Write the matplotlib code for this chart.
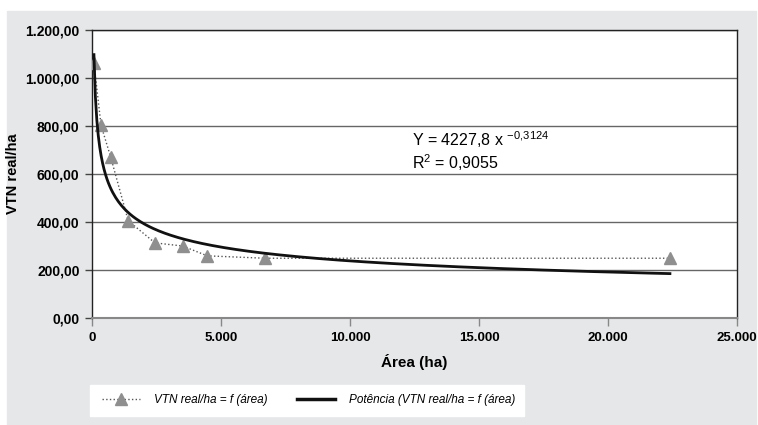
import numpy as np
import matplotlib
matplotlib.use("Agg")
import matplotlib.pyplot as plt
from matplotlib.ticker import FuncFormatter
from matplotlib.patches import Rectangle
from matplotlib.lines import Line2D

plt.rcParams['font.family'] = ['Liberation Sans', 'DejaVu Sans']

# data
area = [75, 350, 720, 1405, 2440, 3510, 4470, 6700, 22400]
vtn = [1062, 803, 672, 405, 313, 300, 259, 249, 249]

# power trendline given on the chart
coef_a = 4227.8
coef_b = -0.3124
r2_text = "0,9055"

y_ticks = [0, 200, 400, 600, 800, 1000, 1200]
x_ticks = [0, 5000, 10000, 15000, 20000, 25000]

fig = plt.figure(figsize=(7.58, 4.25), dpi=100)
fig.patch.set_facecolor('white')
# grey panel behind everything
fig.patches.append(Rectangle((7 / 758, 0), 749 / 758, 414 / 425,
                             transform=fig.transFigure, color='#e6e7e8', zorder=-2))
# white legend box
fig.patches.append(Rectangle((90 / 758, 9 / 425), 434 / 758, 31 / 425,
                             transform=fig.transFigure, color='white', zorder=-1))

ax = fig.add_axes([92 / 758, 107 / 425, 645 / 758, 288 / 425])
ax.set_facecolor('white')

xs = np.linspace(area[0], area[-1], 400)
trend = coef_a * xs ** coef_b

ax.plot(area, vtn, linestyle=':', color='#555555', lw=1, marker='^',
        markersize=9, markerfacecolor='#8f8f8f', markeredgecolor='#8f8f8f', zorder=3)
ax.plot(xs, trend, color='#111111', lw=2, zorder=4)

ax.set_xlim(0, 25000)
ax.set_ylim(0, 1200)
ax.set_xticks(x_ticks)
ax.set_yticks(y_ticks)

def br_fmt(decimals):
    def f(v, pos):
        s = f"{v:,.{decimals}f}"
        return s.replace(',', 'X').replace('.', ',').replace('X', '.')
    return FuncFormatter(f)

ax.yaxis.set_major_formatter(br_fmt(2))
ax.xaxis.set_major_formatter(br_fmt(0))

for lbl in ax.get_yticklabels() + ax.get_xticklabels():
    lbl.set_fontweight('bold')
ax.tick_params(axis='y', labelsize=10, length=5, width=1, color='#444444', pad=4)
ax.tick_params(axis='x', labelsize=9.5, length=6, width=1, color='#888888', pad=4)

ax.yaxis.grid(True, color='#666666', lw=1)
ax.set_axisbelow(True)
for s in ['left', 'top', 'right']:
    ax.spines[s].set_color('#222222')
    ax.spines[s].set_linewidth(1)
ax.spines['bottom'].set_color('#888888')
ax.spines['bottom'].set_linewidth(1.5)

ax.set_ylabel("VTN real/ha", fontsize=10.5, fontweight='bold')
ax.yaxis.set_label_coords(-0.112, 0.5)
ax.set_xlabel("Área (ha)", fontsize=11, fontweight='bold', labelpad=7)

ax.text(12400, 717, r"Y = 4227,8 x $^{\mathregular{-0{,}3124}}$", fontsize=11.5, va='baseline')
ax.text(12400, 621, r"R$^{\mathregular{2}}$ = " + r2_text, fontsize=11.5, va='baseline')

handles = [
    Line2D([], [], linestyle=':', color='#555555', lw=1, marker='^', markersize=9,
           markerfacecolor='#8f8f8f', markeredgecolor='#8f8f8f'),
    Line2D([], [], color='#111111', lw=2.5),
]
labels = ["VTN real/ha = f (área)", "Potência (VTN real/ha = f (área)"]
fig.legend(handles, labels, loc='center', bbox_to_anchor=(309 / 758, 24.5 / 425),
           ncol=2, frameon=False, prop={'style': 'italic', 'size': 8.5},
           handlelength=3.2, columnspacing=2.5, handletextpad=1.2)

fig.savefig('out.png', dpi=100)
